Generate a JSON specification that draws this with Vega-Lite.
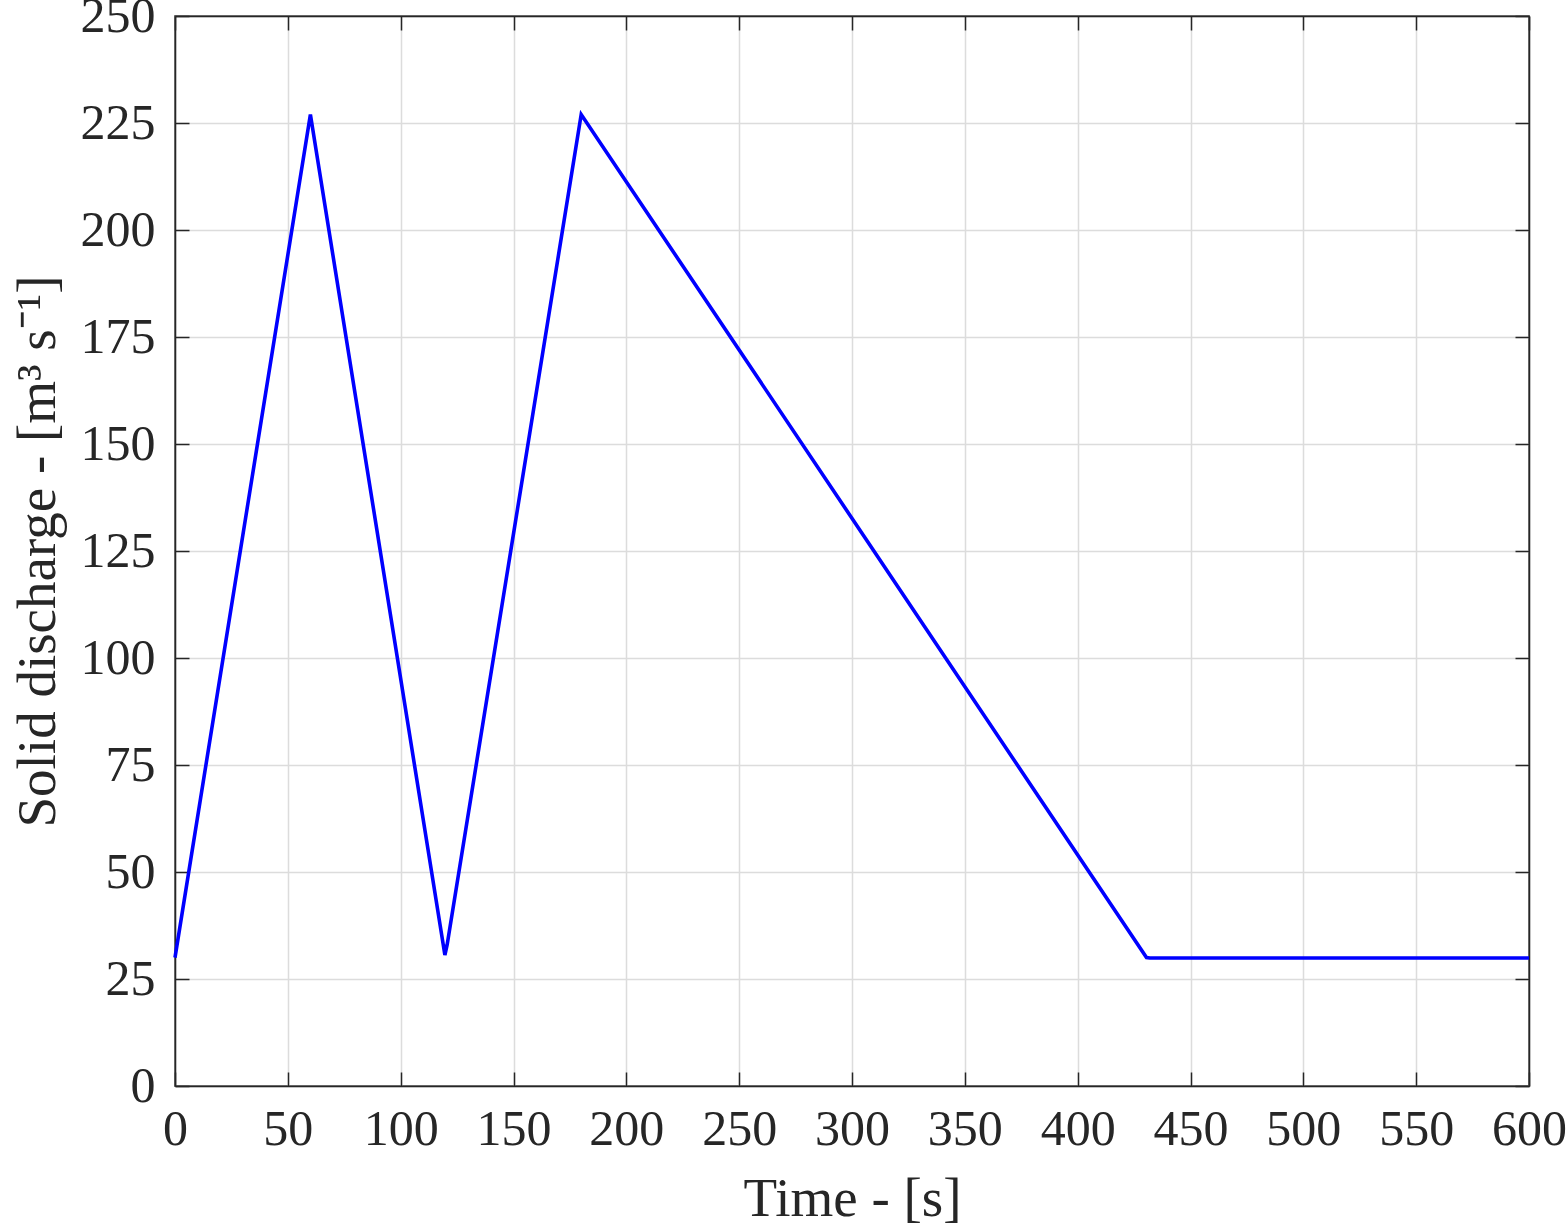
{
  "$schema": "https://vega.github.io/schema/vega-lite/v6.json",
  "width": 1354,
  "height": 1070,
  "autosize": {"type": "none"},
  "padding": {"left": 175, "top": 16, "right": 38, "bottom": 142},
  "background": "white",
  "data": {"values": [
    {"t": 0, "q": 30},
    {"t": 60, "q": 227},
    {"t": 119.6, "q": 30.6},
    {"t": 120.6, "q": 33},
    {"t": 180, "q": 227},
    {"t": 430.5, "q": 30},
    {"t": 432, "q": 29.9},
    {"t": 600, "q": 29.9}
  ]},
  "config": {
    "view": {"stroke": "#262626", "strokeWidth": 1.5},
    "axis": {
      "labelFont": "Liberation Serif",
      "titleFont": "Liberation Serif",
      "labelFontSize": 50,
      "titleFontSize": 55,
      "labelColor": "#262626",
      "titleColor": "#262626",
      "titleFontWeight": "normal",
      "domainColor": "#262626",
      "domainWidth": 1.5,
      "tickColor": "#262626",
      "tickWidth": 1.5,
      "tickSize": -14,
      "gridColor": "#dcdcdc",
      "gridWidth": 1.5
    }
  },
  "layer": [
    {
      "mark": {"type": "line", "color": "#0000ff", "strokeWidth": 3.6},
      "encoding": {
        "x": {"field": "t", "type": "quantitative", "scale": {"domain": [0, 600], "nice": false},
              "axis": {"values": [0,50,100,150,200,250,300,350,400,450,500,550,600], "title": "Time - [s]", "labelPadding": 32, "titlePadding": 18, "labelFlush": false}},
        "y": {"field": "q", "type": "quantitative", "scale": {"domain": [0, 250], "nice": false},
              "axis": {"values": [0,25,50,75,100,125,150,175,200,225,250], "title": "Solid discharge - [m³ s⁻¹]", "labelPadding": 34, "titlePadding": 14, "labelFlush": false}}
      }
    },
    {
      "mark": {"type": "line", "opacity": 0},
      "encoding": {
        "x": {"field": "t", "type": "quantitative", "scale": {"domain": [0, 600], "nice": false},
              "axis": {"orient": "top", "values": [0,50,100,150,200,250,300,350,400,450,500,550,600], "labels": false, "title": null, "grid": false}},
        "y": {"field": "q", "type": "quantitative", "scale": {"domain": [0, 250], "nice": false},
              "axis": {"orient": "right", "values": [0,25,50,75,100,125,150,175,200,225,250], "labels": false, "title": null, "grid": false}}
      }
    }
  ],
  "resolve": {"axis": {"x": "independent", "y": "independent"}}
}
